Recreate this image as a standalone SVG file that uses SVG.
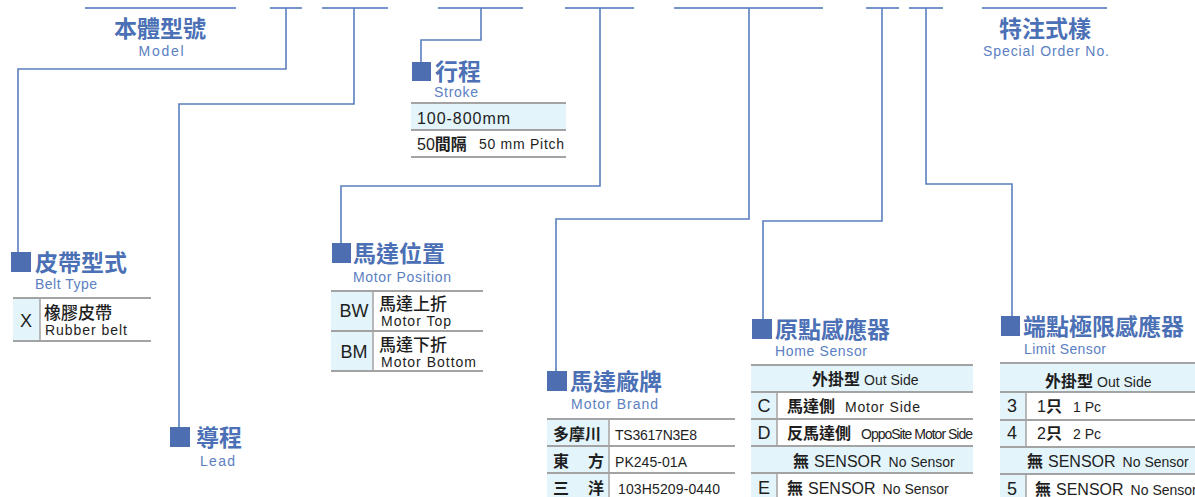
<svg xmlns="http://www.w3.org/2000/svg" width="1195" height="497" viewBox="0 0 1195 497">
<style>
.top{stroke:#7595cc;stroke-width:2;fill:none}
.con{stroke:#5b7fbe;stroke-width:1.6;fill:none}
.sq{fill:#4d6fb1}
.t{font-family:"Liberation Sans","Noto Sans CJK TC",sans-serif;font-size:23px;font-weight:bold;fill:#4b70b5}
.s{font-family:"Liberation Sans","Noto Sans CJK TC",sans-serif;font-size:14px;fill:#5b80c2}
.g{stroke:#a3a3a3;stroke-width:2}
.gv{stroke:#a3a3a3;stroke-width:1.5}
.lb{fill:#e3f4fb}
.b{font-family:"Liberation Sans","Noto Sans CJK TC",sans-serif;font-size:16px;fill:#1e1e1e}
.m{font-family:"Noto Sans CJK TC",sans-serif;font-size:17px;font-weight:500;fill:#1e1e1e}
.bb{font-family:"Liberation Sans","Noto Sans CJK TC",sans-serif;font-size:16px;font-weight:bold;fill:#1e1e1e}
.e{font-family:"Liberation Sans","Noto Sans CJK TC",sans-serif;font-size:14px;fill:#1e1e1e}
.k{font-family:"Liberation Sans","Noto Sans CJK TC",sans-serif;font-size:18px;fill:#1e1e1e}
</style>
<g id="top-lines">
<line class="top" x1="85" y1="8" x2="236" y2="8"/>
<line class="top" x1="270" y1="8" x2="302" y2="8"/>
<line class="top" x1="322" y1="8" x2="388" y2="8"/>
<line class="top" x1="438" y1="8" x2="523" y2="8"/>
<line class="top" x1="565" y1="8" x2="634" y2="8"/>
<line class="top" x1="674" y1="8" x2="823" y2="8"/>
<line class="top" x1="866" y1="8" x2="899" y2="8"/>
<line class="top" x1="909" y1="8" x2="943" y2="8"/>
<line class="top" x1="982" y1="8" x2="1107" y2="8"/>
</g>
<g id="connectors">
<polyline class="con" points="286,8 286,69 18,69 18,253"/>
<polyline class="con" points="354,8 354,104 179,104 179,428"/>
<polyline class="con" points="481,8 481,40 421,40 421,63"/>
<polyline class="con" points="600,8 600,186 341,186 341,244"/>
<polyline class="con" points="749,8 749,219 556,219 556,372"/>
<polyline class="con" points="882,8 882,221 763,221 763,320"/>
<polyline class="con" points="926,8 926,184 1012,184 1012,317"/>
</g>
<g id="model">
<text class="t" x="160" y="37" text-anchor="middle">本體型號</text>
<text class="s" x="161" y="56" text-anchor="middle" textLength="45">Model</text>
</g>
<g id="special-order">
<text class="t" x="1045" y="37" text-anchor="middle">特注式樣</text>
<text class="s" x="1046" y="56" text-anchor="middle" textLength="126">Special Order No.</text>
</g>
<g id="belt-type">
<rect class="sq" x="11" y="252" width="20" height="20"/>
<text class="t" x="35" y="271">皮帶型式</text>
<text class="s" x="35" y="289" textLength="62">Belt Type</text>
<rect class="lb" x="13" y="298" width="27" height="43"/>
<line class="g" x1="13" y1="298" x2="151" y2="298"/>
<line class="g" x1="13" y1="341" x2="151" y2="341"/>
<line class="gv" x1="40" y1="298" x2="40" y2="341"/>
<text class="k" x="26" y="327" text-anchor="middle">X</text>
<text class="m" x="44" y="319">橡膠皮帶</text>
<text class="e" x="45" y="335" textLength="82">Rubber belt</text>
</g>
<g id="lead">
<rect class="sq" x="170" y="427" width="20" height="20"/>
<text class="t" x="196" y="446">導程</text>
<text class="s" x="200" y="466" textLength="35">Lead</text>
</g>
<g id="stroke">
<rect class="sq" x="412" y="62" width="19" height="19"/>
<text class="t" x="435" y="80">行程</text>
<text class="s" x="434" y="97" textLength="44">Stroke</text>
<rect class="lb" x="411" y="103" width="155" height="27"/>
<line class="g" x1="411" y1="103" x2="566" y2="103"/>
<line class="g" x1="411" y1="130" x2="566" y2="130"/>
<line class="g" x1="411" y1="157" x2="566" y2="157"/>
<text class="b" x="417" y="124" textLength="93">100-800mm</text>
<text x="417" y="150"><tspan class="b" font-size="17">50</tspan><tspan class="bb">間隔</tspan></text>
<text class="e" x="479" y="149" font-size="13.5" textLength="85">50 mm Pitch</text>
</g>
<g id="motor-position">
<rect class="sq" x="332" y="243" width="19" height="20"/>
<text class="t" x="353" y="262">馬達位置</text>
<text class="s" x="353" y="282" textLength="98">Motor Position</text>
<rect class="lb" x="331" y="291" width="42" height="80"/>
<line class="g" x1="331" y1="291" x2="483" y2="291"/>
<line class="g" x1="331" y1="331" x2="483" y2="331"/>
<line class="g" x1="331" y1="371" x2="483" y2="371"/>
<line class="gv" x1="373" y1="291" x2="373" y2="371"/>
<text class="k" x="354" y="317" text-anchor="middle">BW</text>
<text class="m" x="379" y="310">馬達上折</text>
<text class="e" x="381" y="326" textLength="70">Motor Top</text>
<text class="k" x="354" y="358" text-anchor="middle">BM</text>
<text class="m" x="379" y="351">馬達下折</text>
<text class="e" x="381" y="367" textLength="95">Motor Bottom</text>
</g>
<g id="motor-brand">
<rect class="sq" x="547" y="371" width="20" height="20"/>
<text class="t" x="570" y="390">馬達廠牌</text>
<text class="s" x="571" y="409" textLength="87">Motor Brand</text>
<rect class="lb" x="547" y="419" width="62" height="80"/>
<line class="g" x1="547" y1="419" x2="735" y2="419"/>
<line class="g" x1="547" y1="446" x2="735" y2="446"/>
<line class="g" x1="547" y1="473" x2="735" y2="473"/>
<line class="gv" x1="609" y1="419" x2="609" y2="497"/>
<text class="bb" x="553" y="440" font-size="16.5">多摩川</text>
<text class="e" x="615" y="440" textLength="82">TS3617N3E8</text>
<text class="bb" x="553" y="467" font-size="16.5">東</text>
<text class="bb" x="588" y="467" font-size="16.5">方</text>
<text class="e" x="615" y="467" textLength="72">PK245-01A</text>
<text class="bb" x="553" y="494" font-size="16.5">三</text>
<text class="bb" x="588" y="494" font-size="16.5">洋</text>
<text class="e" x="618" y="494" textLength="102">103H5209-0440</text>
</g>
<g id="home-sensor">
<rect class="sq" x="752" y="319" width="20" height="20"/>
<text class="t" x="775" y="338">原點感應器</text>
<text class="s" x="775" y="356" textLength="92">Home Sensor</text>
<rect class="lb" x="751" y="365" width="222" height="27"/>
<rect class="lb" x="751" y="392" width="26" height="54"/>
<rect class="lb" x="751" y="446" width="222" height="27"/>
<rect class="lb" x="751" y="473" width="26" height="27"/>
<line class="g" x1="751" y1="365" x2="973" y2="365"/>
<line class="g" x1="751" y1="392" x2="973" y2="392"/>
<line class="g" x1="751" y1="419" x2="973" y2="419"/>
<line class="g" x1="751" y1="446" x2="973" y2="446"/>
<line class="g" x1="751" y1="473" x2="973" y2="473"/>
<line class="gv" x1="777" y1="392" x2="777" y2="446"/>
<line class="gv" x1="777" y1="473" x2="777" y2="497"/>
<text x="812" y="385"><tspan class="bb">外掛型</tspan><tspan class="e" dx="4" font-size="15">Out Side</tspan></text>
<text class="k" x="764" y="412" text-anchor="middle">C</text>
<text class="bb" x="787" y="412">馬達側</text>
<text class="e" x="845" y="412" textLength="75">Motor Side</text>
<text class="k" x="764" y="439" text-anchor="middle">D</text>
<text class="bb" x="787" y="439">反馬達側</text>
<text class="e" x="861" y="439" font-size="12.5" textLength="112">OppoSite Motor Side</text>
<text x="793" y="467"><tspan class="bb">無</tspan><tspan class="b" dx="5">SENSOR</tspan><tspan class="e" dx="7" font-size="15">No Sensor</tspan></text>
<text class="k" x="764" y="494" text-anchor="middle">E</text>
<text x="787" y="494"><tspan class="bb">無</tspan><tspan class="b" dx="5">SENSOR</tspan><tspan class="e" dx="7" font-size="15">No Sensor</tspan></text>
</g>
<g id="limit-sensor">
<rect class="sq" x="1001" y="316" width="19" height="20"/>
<text class="t" x="1023" y="335">端點極限感應器</text>
<text class="s" x="1024" y="354" textLength="82">Limit Sensor</text>
<rect class="lb" x="1000" y="363" width="195" height="29"/>
<rect class="lb" x="1000" y="392" width="26" height="55"/>
<rect class="lb" x="1000" y="447" width="195" height="27"/>
<rect class="lb" x="1000" y="474" width="26" height="26"/>
<line class="g" x1="1000" y1="363" x2="1195" y2="363"/>
<line class="g" x1="1000" y1="392" x2="1195" y2="392"/>
<line class="g" x1="1000" y1="420" x2="1195" y2="420"/>
<line class="g" x1="1000" y1="447" x2="1195" y2="447"/>
<line class="g" x1="1000" y1="474" x2="1195" y2="474"/>
<line class="gv" x1="1026" y1="392" x2="1026" y2="447"/>
<line class="gv" x1="1026" y1="474" x2="1026" y2="497"/>
<text x="1045" y="387"><tspan class="bb">外掛型</tspan><tspan class="e" dx="4" font-size="15">Out Side</tspan></text>
<text class="k" x="1012" y="412" text-anchor="middle">3</text>
<text x="1037" y="412"><tspan class="b" font-size="17">1</tspan><tspan class="bb">只</tspan></text>
<text class="e" x="1073" y="412" font-size="13">1 Pc</text>
<text class="k" x="1012" y="439" text-anchor="middle">4</text>
<text x="1037" y="439"><tspan class="b" font-size="17">2</tspan><tspan class="bb">只</tspan></text>
<text class="e" x="1073" y="439" font-size="13">2 Pc</text>
<text x="1027" y="467"><tspan class="bb">無</tspan><tspan class="b" dx="5">SENSOR</tspan><tspan class="e" dx="7" font-size="15">No Sensor</tspan></text>
<text class="k" x="1012" y="495" text-anchor="middle">5</text>
<text x="1035" y="495"><tspan class="bb">無</tspan><tspan class="b" dx="5">SENSOR</tspan><tspan class="e" dx="7" font-size="15">No Sensor</tspan></text>
</g>
</svg>
